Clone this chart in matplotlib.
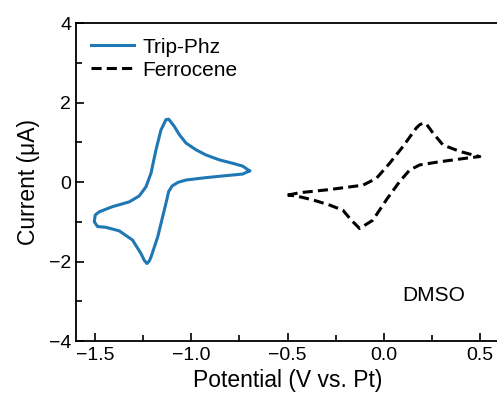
import matplotlib
matplotlib.use("Agg")
import matplotlib.pyplot as plt
from matplotlib.ticker import MultipleLocator

plt.rcParams['font.family'] = ['Liberation Sans', 'DejaVu Sans']

# Trip-Phz CV (V vs Pt, µA)
trip_x = [-0.698, -0.733, -0.82, -0.924, -1.028, -1.07, -1.10, -1.118, -1.128, -1.141,
          -1.175, -1.21, -1.219, -1.231, -1.245,
          -1.262, -1.306, -1.375, -1.444, -1.488, -1.505, -1.50,
          -1.479, -1.41, -1.323, -1.271, -1.236, -1.21, -1.184, -1.158, -1.132, -1.118,
          -1.089, -1.0625, -1.028, -0.976, -0.924, -0.854, -0.785, -0.733, -0.698]
trip_y = [0.28, 0.20, 0.16, 0.11, 0.05, -0.01, -0.10, -0.24, -0.45, -0.71,
          -1.38, -1.89, -1.99, -2.05, -1.97,
          -1.80, -1.46, -1.23, -1.14, -1.12, -1.0, -0.83,
          -0.75, -0.62, -0.50, -0.35, -0.12, 0.22, 0.81, 1.31, 1.57, 1.58,
          1.40, 1.19, 0.98, 0.81, 0.68, 0.556, 0.47, 0.40, 0.28]

# Ferrocene CV
fc_x = [-0.499, -0.4375, -0.281, -0.108, -0.038, 0.031, 0.10, 0.17, 0.1875, 0.205, 0.222,
        0.257, 0.309, 0.396, 0.465, 0.50,
        0.431, 0.292, 0.1875, 0.135, 0.083, 0.014, -0.056, -0.125,
        -0.168, -0.212, -0.281, -0.368, -0.455, -0.499]
fc_y = [-0.33, -0.27, -0.19, -0.08, 0.09, 0.47, 0.89, 1.36, 1.44, 1.48, 1.46,
        1.23, 0.93, 0.77, 0.68, 0.64,
        0.60, 0.51, 0.43, 0.30, 0.01, -0.45, -0.96, -1.17,
        -0.96, -0.71, -0.58, -0.45, -0.35, -0.33]

fig = plt.figure(figsize=(4.97, 3.96), dpi=100)
ax = fig.add_axes([76/497, 55/396, (499-76)/497, (341-23)/396])

ax.plot(trip_x, trip_y, color='#1f77b4', lw=2.2, label='Trip-Phz',
        solid_joinstyle='round')
ax.plot(fc_x, fc_y, color='black', lw=2.2, ls=(0, (3.3, 1.7)), label='Ferrocene')

ax.set_xlim(-1.6, 0.6)
ax.set_ylim(-4, 4)
ax.xaxis.set_major_locator(MultipleLocator(0.5))
ax.xaxis.set_minor_locator(MultipleLocator(0.25))
ax.yaxis.set_major_locator(MultipleLocator(2))
ax.yaxis.set_minor_locator(MultipleLocator(1))
ax.tick_params(which='both', direction='in', labelsize=14, width=1.2)
ax.tick_params(which='major', length=6)
ax.tick_params(which='minor', length=4)
ax.tick_params(axis='x', pad=4)
for s in ax.spines.values():
    s.set_linewidth(1.3)

ax.set_xlabel('Potential (V vs. Pt)', fontsize=16.5, labelpad=4)
ax.set_ylabel('Current (μA)', fontsize=16.5, labelpad=6)

ax.text(0.099, -2.85, 'DMSO', fontsize=15, va='center', ha='left')

ax.legend(loc='upper left', frameon=False, fontsize=15, handlelength=2.1,
          handletextpad=0.4, borderaxespad=0.3, labelspacing=0.2,
          bbox_to_anchor=(0.0, 1.0))

fig.savefig('out.png', dpi=100)
